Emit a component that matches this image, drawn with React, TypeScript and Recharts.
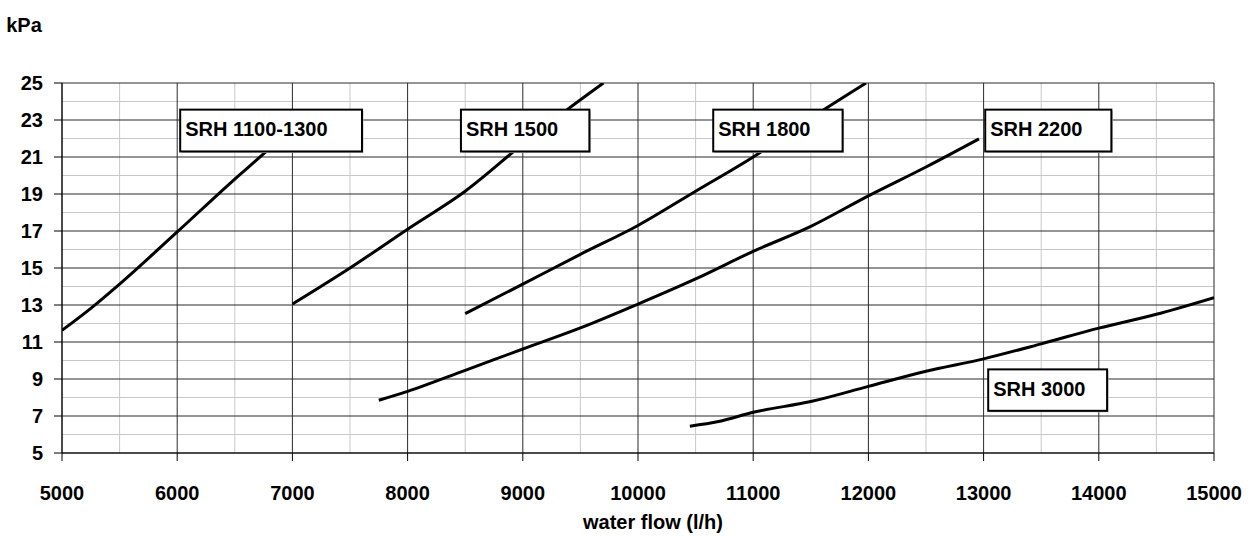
import { LineChart, Line, XAxis, YAxis, CartesianGrid, ReferenceArea } from 'recharts';

// water flow (l/h) and pressure drop (kPa)
const flow1100 = [5000, 5250, 5500, 6000, 6500, 6780, 6850];
const kpa1100 = [11.63, 12.82, 14.13, 16.95, 19.81, 21.34, 21.75];

const flow1500 = [7000, 7500, 8000, 8500, 9000, 9385, 9700];
const kpa1500 = [13.05, 15.0, 17.1, 19.15, 21.7, 23.56, 25];

const flow1800 = [8500, 9000, 9500, 10000, 10500, 11000, 11500, 11980];
const kpa1800 = [12.53, 14.13, 15.74, 17.3, 19.15, 21.0, 23.1, 25];

const flow2200 = [7750, 8000, 8500, 9000, 9500, 10000, 10500, 11000, 11500, 12000, 12500, 12960];
const kpa2200 = [7.85, 8.33, 9.47, 10.62, 11.76, 13.05, 14.41, 15.9, 17.25, 18.9, 20.46, 21.98];

const flow3000 = [10450, 10700, 11000, 11500, 12000, 12500, 13000, 13500, 14000, 14500, 15000];
const kpa3000 = [6.45, 6.7, 7.2, 7.78, 8.6, 9.42, 10.09, 10.9, 11.75, 12.5, 13.4];

const seriesNames = ['SRH 1100-1300', 'SRH 1500', 'SRH 1800', 'SRH 2200', 'SRH 3000'];

const xTicks = [5000, 6000, 7000, 8000, 9000, 10000, 11000, 12000, 13000, 14000, 15000];
const yTicks = [5, 7, 9, 11, 13, 15, 17, 19, 21, 23, 25];
const xMinor = [5500, 6500, 7500, 8500, 9500, 10500, 11500, 12500, 13500, 14500];
const yMinor = [6, 8, 10, 12, 14, 16, 18, 20, 22, 24];

const toPoints = (xs: number[], ys: number[]) => xs.map((x, i) => ({ x, y: ys[i] }));

const curves = [
  toPoints(flow1100, kpa1100),
  toPoints(flow1500, kpa1500),
  toPoints(flow1800, kpa1800),
  toPoints(flow2200, kpa2200),
  toPoints(flow3000, kpa3000),
];

// where each name box sits, in data units: [x1, x2, y1, y2]
const boxPlacement = [
  [6026, 7604, 21.3, 23.56],
  [8463, 9578, 21.3, 23.56],
  [10653, 11776, 21.3, 23.56],
  [13014, 14109, 21.3, 23.56],
  [13040, 14072, 7.28, 9.52],
];

const FONT = '"Liberation Sans", Arial, sans-serif';

const NameBox = (props: any) => {
  const { x, y, width, height, text } = props;
  return (
    <g>
      <rect x={x + 1.5} y={y + 1.5} width={width} height={height} fill="#bdbdbd" />
      <rect x={x} y={y} width={width} height={height} fill="#fff" stroke="#000" strokeWidth={2} />
      <text
        x={x + 5}
        y={y + height / 2 + 5.5}
        fontFamily={FONT}
        fontWeight="bold"
        fontSize={20}
        fill="#000"
      >
        {text}
      </text>
    </g>
  );
};

const tickStyle = { fontSize: 20, fontWeight: 'bold', fill: '#000', fontFamily: FONT };

export default function App() {
  return (
    <div style={{ position: 'absolute', left: 0, top: 0, background: '#fff' }}>
      <LineChart width={1254} height={536} margin={{ top: 83, right: 40, bottom: 0, left: 0 }}>
        <CartesianGrid horizontalValues={yMinor} verticalValues={xMinor} stroke="#c8c8c8" strokeWidth={1} />
        <CartesianGrid horizontalValues={yTicks} verticalValues={xTicks} stroke="#2a2a2a" strokeWidth={1} />
        <XAxis
          dataKey="x"
          type="number"
          domain={[5000, 15000]}
          ticks={xTicks}
          height={83}
          tickSize={8}
          tickMargin={25}
          stroke="#000"
          tick={tickStyle}
          allowDataOverflow
          label={{
            value: 'water flow (l/h)',
            position: 'insideBottom',
            offset: 7,
            dx: 15,
            style: { ...tickStyle, textAnchor: 'middle' },
          }}
        />
        <YAxis
          type="number"
          domain={[5, 25]}
          ticks={yTicks}
          width={62}
          tickSize={8}
          tickMargin={11}
          stroke="#000"
          tick={tickStyle}
          allowDataOverflow
          label={{ value: 'kPa', position: 'top', offset: 51, dx: -7, style: tickStyle }}
        />
        {curves.map((pts, i) => (
          <Line
            key={seriesNames[i]}
            data={pts}
            dataKey="y"
            name={seriesNames[i]}
            type="monotone"
            stroke="#000"
            strokeWidth={3}
            dot={false}
            activeDot={false}
            isAnimationActive={false}
          />
        ))}
        {boxPlacement.map(([x1, x2, y1, y2], i) => (
          <ReferenceArea
            key={'box' + i}
            x1={x1}
            x2={x2}
            y1={y1}
            y2={y2}
            zIndex={1500}
            shape={(p: any) => <NameBox {...p} text={seriesNames[i]} />}
          />
        ))}
      </LineChart>
    </div>
  );
}
